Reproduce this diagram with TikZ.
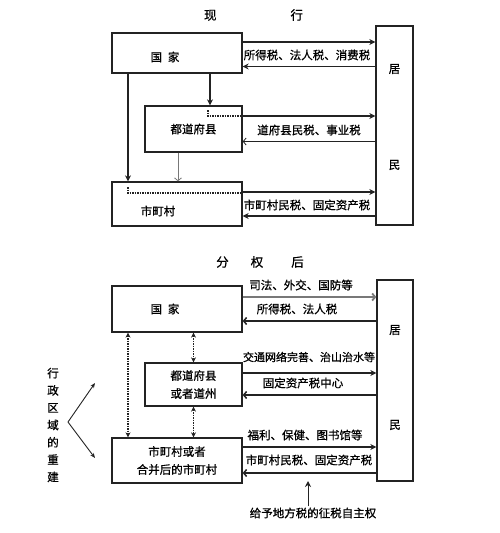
\documentclass[tikz,border=0pt]{standalone}
\usepackage{fontspec}
\setmainfont{Noto Sans CJK SC}[FakeBold=0.8]
\usetikzlibrary{arrows.meta, calc}
\definecolor{linegray}{RGB}{35, 35, 35}
\definecolor{midgray}{RGB}{120, 120, 120}

\begin{document}
\begin{tikzpicture}[x=1pt, y=-1pt,
  box/.style={draw=linegray, line width=1.3pt, fill=white, inner sep=0pt, font=\fontsize{11.5}{18}\selectfont, align=center},
  txt/.style={font=\fontsize{11.5}{13}\selectfont, inner sep=1pt},
  arr/.style={-{Stealth[length=6pt, width=6pt]}, line width=1.5pt, color=linegray},
  barr/.style={-{Straight Barb[length=3pt, width=7pt]}, line width=1.5pt, color=linegray},
  garr/.style={-{Straight Barb[length=3pt, width=7pt]}, line width=1.8pt, color=midgray},
  tarr/.style={-{Straight Barb[length=3pt, width=7pt]}, line width=0.8pt, color=midgray},
  darr/.style={{Stealth[length=5pt, width=5pt]}-{Stealth[length=5pt, width=5pt]}, densely dotted, line width=1.5pt, color=linegray},
  dline/.style={densely dotted, line width=1.5pt, color=linegray}
]
  \useasboundingbox[fill=white] (0,0) rectangle (500,533);

  % Current system
  \node[txt, font=\fontsize{12.5}{14}\selectfont] (title1) at (253.5,15) {现\hspace{74pt}行};
  \node[box, minimum width=130pt, minimum height=40pt] (kokka1) at (177,53) {};
  \node[txt] (kokka1t) at (165,57) {国\hspace{0.5em}家};
  \node[box, minimum width=97pt, minimum height=46pt] (todo1) at (193.5,129) {都道府县};
  \node[box, minimum width=130pt, minimum height=44pt] (shi1) at (177,204) {};
  \node[txt] (shi1t) at (158,211) {市町村};
  \node[box, minimum width=37pt, minimum height=199pt] (jumin1) at (394.5,125.5) {};
  \node[txt] (jumin1a) at (394.5,69) {居};
  \node[txt] (jumin1b) at (394.5,165) {民};

  \draw[arr] ([yshift=11pt]kokka1.east) -- ([yshift=11pt]kokka1.east -| jumin1.west);
  \draw[arr] ([yshift=-13.5pt]kokka1.east -| jumin1.west) -- ([yshift=-13.5pt]kokka1.east);
  \node[txt] (tax1) at (307,55) {所得税、法人税、消费税};
  \draw[arr] ([xshift=33pt]kokka1.south) -- ([xshift=33pt]kokka1.south |- todo1.north);
  \draw[arr] ([xshift=-49pt]kokka1.south) -- ([xshift=-49pt]kokka1.south |- shi1.north);

  \coordinate (todo1s) at (208,110);
  \draw[dline] (todo1s) |- ([yshift=13pt]todo1.east);
  \draw[arr] ([yshift=13pt]todo1.east) -- ([yshift=13pt]todo1.east -| jumin1.west);
  \node[txt] (tax2) at (309,130) {道府县民税、事业税};
  \draw[tarr, color=linegray] ([yshift=-12.5pt]todo1.east -| jumin1.west) -- ([yshift=-12.5pt]todo1.east);
  \draw[tarr] ([xshift=-15.5pt]todo1.south) -- ([xshift=-15.5pt]todo1.south |- shi1.north);

  \coordinate (shi1s) at (128,187);
  \draw[dline] (shi1s) |- ([yshift=11pt]shi1.east);
  \draw[arr] ([yshift=12pt]shi1.east) -- ([yshift=12pt]shi1.east -| jumin1.west);
  \node[txt] (tax3) at (307,205) {市町村民税、固定资产税};
  \draw[arr] ([yshift=-12pt]shi1.east -| jumin1.west) -- ([yshift=-12pt]shi1.east);

  % After decentralisation
  \node[txt, font=\fontsize{12.5}{14}\selectfont] (title2) at (260,262) {分\hspace{22pt}权\hspace{28pt}后};
  \node[box, minimum width=130pt, minimum height=46pt] (kokka2) at (177,309) {};
  \node[txt] (kokka2t) at (165,309) {国\hspace{0.5em}家};
  \node[box, minimum width=97pt, minimum height=43pt] (todo2) at (193.5,384.5) {都道府县\\或者道州};
  \node[box, minimum width=130pt, minimum height=45pt] (shi2) at (177,460.5) {市町村或者\\合并后的市町村};
  \node[box, minimum width=36pt, minimum height=201pt] (jumin2) at (395,380.5) {};
  \node[txt] (jumin2a) at (395,330) {居};
  \node[txt] (jumin2b) at (395,425) {民};

  \draw[garr] ([yshift=12pt]kokka2.east) -- ([yshift=12pt]kokka2.east -| jumin2.west);
  \node[txt] (srv1) at (301,285) {司法、外交、国防等};
  \node[txt] (tax4) at (297,309) {所得税、法人税};
  \draw[barr] ([yshift=-12pt]kokka2.east -| jumin2.west) -- ([yshift=-12pt]kokka2.east);

  \draw[darr] ([xshift=-49pt]kokka2.south) -- ([xshift=-49pt]kokka2.south |- shi2.north);
  \draw[darr] (kokka2.south -| todo2.north) -- (todo2.north);
  \draw[darr] (todo2.south) -- (todo2.south |- shi2.north);

  \draw[arr] ([yshift=11.5pt]todo2.east) -- ([yshift=11.5pt]todo2.east -| jumin2.west);
  \node[txt, font=\fontsize{11}{13}\selectfont] (srv2) at (309,357) {交通网络完善、治山治水等};
  \node[txt] (tax5) at (303,383) {固定资产税中心};
  \draw[barr] ([yshift=-10.5pt]todo2.east -| jumin2.west) -- ([yshift=-10.5pt]todo2.east);

  \node[txt] (srv3) at (305,435) {福利、保健、图书馆等};
  \draw[arr] ([yshift=13.5pt]shi2.east) -- ([yshift=13.5pt]shi2.east -| jumin2.west);
  \node[txt] (tax6) at (309,460) {市町村民税、固定资产税};
  \draw[barr] ([yshift=-12.5pt]shi2.east -| jumin2.west) -- ([yshift=-12.5pt]shi2.east);

  \node[txt] (jishu) at (313,513) {给予地方税的征税自主权};
  \coordinate (jishutip) at (308,481);
  \draw[arr, line width=1pt] (jishu.north -| jishutip) -- (jishutip);

  % Regional restructuring
  \node[txt, align=center, font=\fontsize{11.5}{17.3}\selectfont] (gyosei) at (53,425) {行\\政\\区\\域\\的\\重\\建};
  \coordinate (fork) at (68,422);
  \coordinate (forkup) at (95,383);
  \coordinate (forkdn) at (95,458);
  \draw[-{Stealth[length=5pt, width=4pt]}, line width=0.9pt, color=linegray] (fork) -- (forkup);
  \draw[-{Stealth[length=5pt, width=4pt]}, line width=0.9pt, color=linegray] (fork) -- (forkdn);
\end{tikzpicture}
\end{document}
